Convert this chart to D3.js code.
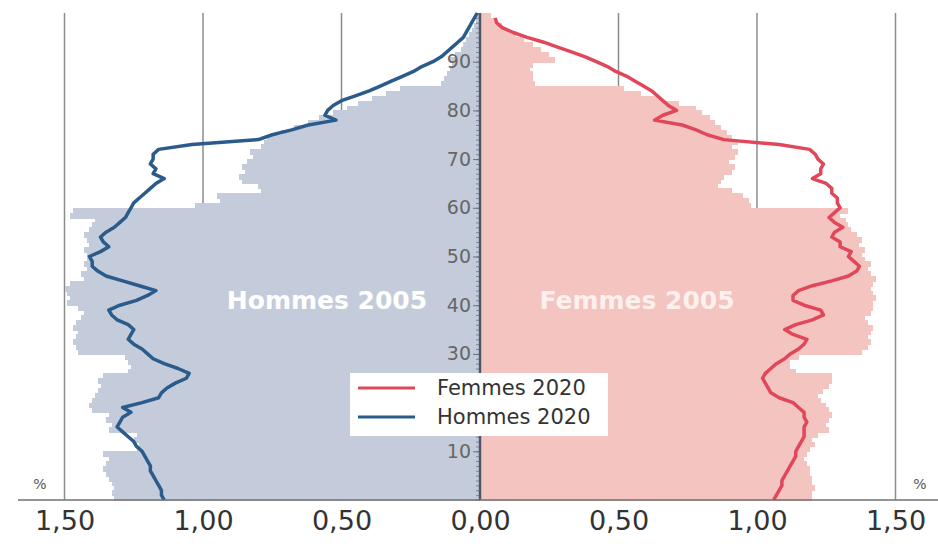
<!DOCTYPE html>
<html lang="fr">
<head>
<meta charset="utf-8">
<title>Pyramide des âges 2005 / 2020</title>
<script src="https://cdn.jsdelivr.net/npm/d3@7/dist/d3.min.js"></script>
<style>
  body { margin: 0; background: #fff; }
  svg { display: block; font-family: "DejaVu Sans", sans-serif; }
</style>
</head>
<body>
<script>

// -- Data -- //

// bars (2005), one value per age 0..99, in %
let hommes2005 = [
  1.32,1.33,1.32,1.33,1.34, 1.35,1.36,1.35,1.34,1.36,
  1.24,1.23,1.25,1.24, 1.34,1.33,1.35,1.34, 1.40,1.41,1.40,1.39,
  1.38,1.37,1.38,1.36, 1.27,1.26,1.27,1.28,
  1.45,1.46,1.47,1.46,1.45,1.47,1.46, 1.44,1.43,1.45,
  1.49,1.48,1.49,1.50,1.48, 1.43,1.44,1.42,1.43,1.42,
  1.42,1.43,1.41,1.42,1.43,1.41, 1.40,1.39, 1.48,1.47,
  1.03, 0.94,0.95, 0.79,0.80, 0.86,0.87,0.85,0.86,0.84, 0.82,0.83, 0.79,0.78,
  0.77,0.72,0.67,0.62,0.58,0.53,0.48,0.44,0.39,0.34,0.29,
  0.14,0.13,0.12,0.11,0.10,
  0.11,0.09,0.07,0.06,0.05,0.04,0.03,0.02,0.015,0.01
];

let femmes2005 = [
  1.20,1.20,1.21,1.20,1.20,1.19,1.19, 1.18,1.17,1.18,1.19,1.21,1.20,1.22,
  1.26,1.25,1.26,1.27,1.26,1.25, 1.23,1.22,1.24, 1.26,1.27,1.27,
  1.14,1.12,1.12,1.15,
  1.38,1.40,1.41,1.40,1.41,1.42,1.40,1.39,1.41,1.42,
  1.42,1.43,1.42,1.41,1.42,1.43,1.41,1.40,1.41,1.39,
  1.38,1.39,1.37,1.38,1.36, 1.34,1.33,1.32,1.30,1.33,
  0.98,0.97,0.95,0.91,0.86,0.87,0.88,0.91,0.92,0.90,0.92,0.93,0.91,0.93,
  0.91,0.89,0.87,0.85,0.83,0.80,0.78,0.72,0.65,0.58,0.52,
  0.20,0.19,0.19,0.18,0.19,
  0.27,0.25,0.22,0.19,0.16,0.13,0.10,0.08,0.06,0.04
];

// lines (2020), one value per age
let hommes2020 = [
  1.14,1.15,1.15,1.16,1.17,1.18,1.19,1.19,1.20,1.21,
  1.22,1.24,1.25,1.27,1.29,1.31,1.30,1.29,1.26,1.29,
  1.22,1.16,1.15,1.13,1.10,1.06,1.05,1.09,1.14,1.18,
  1.20,1.22,1.25,1.27,1.26,1.25,1.27,1.31,1.33,1.34,
  1.30,1.24,1.20,1.17,1.23,1.29,1.35,1.38,1.40,1.40,
  1.41,1.37,1.34,1.36,1.37,1.35,1.32,1.30,1.28,1.27,
  1.26,1.25,1.23,1.21,1.19,1.17,1.14,1.18,1.17,1.19,
  1.18,1.18,1.16,1.04,0.80,0.75,0.68,0.62,0.52,0.56,
  0.55,0.53,0.50,0.45,0.40,0.36,0.32,0.28,0.24,0.21,
  0.17,0.14,0.12,0.10,0.08,0.06,0.05,0.04,0.03,0.02,0.01
];

let femmes2020 = [
  1.06,1.07,1.08,1.09,1.09,1.10,1.11,1.12,1.13,1.14,
  1.14,1.15,1.16,1.17,1.17,1.17,1.18,1.17,1.17,1.15,
  1.13,1.08,1.05,1.04,1.03,1.02,1.03,1.05,1.07,1.10,
  1.12,1.15,1.17,1.18,1.13,1.10,1.14,1.20,1.24,1.23,
  1.17,1.13,1.13,1.15,1.20,1.27,1.33,1.36,1.37,1.35,
  1.33,1.34,1.30,1.30,1.27,1.28,1.31,1.28,1.26,1.28,
  1.30,1.29,1.29,1.27,1.27,1.25,1.20,1.23,1.23,1.24,
  1.22,1.21,1.19,1.08,0.88,0.82,0.78,0.73,0.63,0.66,
  0.71,0.68,0.66,0.64,0.62,0.59,0.56,0.53,0.49,0.46,
  0.42,0.38,0.33,0.28,0.23,0.17,0.12,0.08,0.06,0.055
];

let xTicks = [-1.5, -1, -0.5, 0, 0.5, 1, 1.5];
let ageTicks = [10, 20, 30, 40, 50, 60, 70, 80, 90];

let legendItems = [
  { label: "Femmes 2020", color: "#e0485a" },
  { label: "Hommes 2020", color: "#2b5b8a" }
];

// -- Setting -- //

let canvasWidth = 938;
let canvasHeight = 554;

let colHommes = "#c4ccdc";
let colFemmes = "#f3c4c0";
let colGrid = "#8c8c8c";

const canvas = d3.select("body")
  .append("svg")
  .attr("width", canvasWidth)
  .attr("height", canvasHeight);

let x = d3.scaleLinear().domain([-1.5, 1.5]).range([64.5, 895.5]);
let y = d3.scaleLinear().domain([0, 100]).range([500, 13]);

let fr = d3.formatLocale({ decimal: ",", thousands: " ", grouping: [3], currency: ["", " €"] });
let fmt = fr.format(".2f");

// -- Visualisation -- //

// grid lines (behind the bars)
canvas.append("g")
  .selectAll("line")
  .data(xTicks.filter(d => d !== 0))
  .join("line")
    .attr("x1", d => x(d))
    .attr("x2", d => x(d))
    .attr("y1", y(100))
    .attr("y2", y(0))
    .attr("stroke", colGrid)
    .attr("stroke-width", 1.5);

// 2005 bars
let barH = y(0) - y(1);

canvas.append("g")
  .attr("shape-rendering", "crispEdges")
  .selectAll("rect")
  .data(hommes2005)
  .join("rect")
    .attr("x", d => x(-d))
    .attr("width", d => x(0) - x(-d))
    .attr("y", (d, i) => y(i + 1))
    .attr("height", barH + 1)
    .attr("fill", colHommes);

canvas.append("g")
  .attr("shape-rendering", "crispEdges")
  .selectAll("rect")
  .data(femmes2005)
  .join("rect")
    .attr("x", x(0))
    .attr("width", d => x(d) - x(0))
    .attr("y", (d, i) => y(i + 1))
    .attr("height", barH + 1)
    .attr("fill", colFemmes);

// big labels inside the bars
canvas.append("text")
  .attr("x", 327)
  .attr("y", 309)
  .attr("text-anchor", "middle")
  .attr("font-size", 25)
  .attr("font-weight", "bold")
  .attr("fill", "#ffffff")
  .text("Hommes 2005");

canvas.append("text")
  .attr("x", 637)
  .attr("y", 309)
  .attr("text-anchor", "middle")
  .attr("font-size", 25)
  .attr("font-weight", "bold")
  .attr("fill", "#fdf0ee")
  .text("Femmes 2005");

// central age axis
let ageAxisMinor = d3.axisLeft(y)
  .tickValues(d3.range(0, 101))
  .tickSize(4)
  .tickFormat("");

canvas.append("g")
  .attr("transform", `translate(${x(0)},0)`)
  .call(ageAxisMinor)
  .call(g => g.select(".domain").remove())
  .call(g => g.selectAll("line").attr("stroke", "#6a7282").attr("stroke-width", 0.8));

// the "20" label sits under the legend box, so it is left blank
let ageAxis = d3.axisLeft(y)
  .tickValues(ageTicks)
  .tickSize(7)
  .tickPadding(2)
  .tickFormat(d => d === 20 ? "" : d);

canvas.append("g")
  .attr("transform", `translate(${x(0)},0)`)
  .call(ageAxis)
  .call(g => g.select(".domain").remove())
  .call(g => g.selectAll("line").attr("stroke", "#6a7282").attr("stroke-width", 1))
  .call(g => g.selectAll("text")
    .attr("font-size", 19)
    .attr("font-family", "DejaVu Sans, sans-serif")
    .attr("fill", "#666"));

canvas.append("line")
  .attr("x1", x(0)).attr("x2", x(0))
  .attr("y1", y(100)).attr("y2", y(0))
  .attr("stroke", "#4e5868")
  .attr("stroke-width", 2.5);

// 2020 lines
let lineH = d3.line()
  .x(d => x(-d))
  .y((d, i) => y(i));

let lineF = d3.line()
  .x(d => x(d))
  .y((d, i) => y(i));

canvas.append("path")
  .datum(hommes2020)
  .attr("d", lineH)
  .attr("fill", "none")
  .attr("stroke", legendItems[1].color)
  .attr("stroke-width", 3.5)
  .attr("stroke-linejoin", "round");

canvas.append("path")
  .datum(femmes2020)
  .attr("d", lineF)
  .attr("fill", "none")
  .attr("stroke", legendItems[0].color)
  .attr("stroke-width", 3.5)
  .attr("stroke-linejoin", "round");

// bottom axis
canvas.append("line")
  .attr("x1", 18).attr("x2", canvasWidth)
  .attr("y1", y(0)).attr("y2", y(0))
  .attr("stroke", "#707070")
  .attr("stroke-width", 1.5);

let xAxis = d3.axisBottom(x)
  .tickValues(xTicks)
  .tickSize(0)
  .tickPadding(30)
  .tickFormat(d => fmt(Math.abs(d)));

canvas.append("g")
  .attr("transform", `translate(0,${y(0)})`)
  .call(xAxis)
  .call(g => g.select(".domain").remove())
  .call(g => g.selectAll("text")
    .attr("font-size", 27)
    .attr("font-family", "DejaVu Sans, sans-serif")
    .attr("fill", "#333")
    .attr("dy", "0"));

// "%" unit labels
canvas.selectAll(".unit")
  .data([40, 920])
  .join("text")
    .attr("class", "unit")
    .attr("x", d => d)
    .attr("y", 489)
    .attr("text-anchor", "middle")
    .attr("font-size", 14)
    .attr("fill", "#555")
    .text("%");

// legend
let legend = canvas.append("g")
  .attr("transform", "translate(350,373)");

legend.append("rect")
  .attr("width", 258)
  .attr("height", 63)
  .attr("fill", "#ffffff");

let legendRow = legend.selectAll("g")
  .data(legendItems)
  .join("g")
    .attr("transform", (d, i) => `translate(0,${15 + i * 29})`);

legendRow.append("line")
  .attr("x1", 8).attr("x2", 65)
  .attr("stroke", d => d.color)
  .attr("stroke-width", 3);

legendRow.append("text")
  .attr("x", 87)
  .attr("y", 7)
  .attr("font-size", 21)
  .attr("fill", "#333")
  .text(d => d.label);

</script>
</body>
</html>
